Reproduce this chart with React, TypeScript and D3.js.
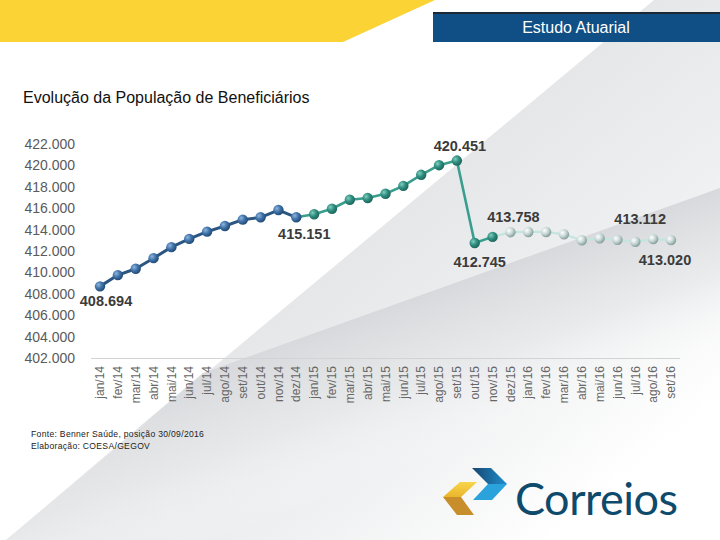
import * as d3 from "d3";

const months = [
  "jan/14", "fev/14", "mar/14", "abr/14", "mai/14", "jun/14", "jul/14", "ago/14",
  "set/14", "out/14", "nov/14", "dez/14", "jan/15", "fev/15", "mar/15", "abr/15",
  "mai/15", "jun/15", "jul/15", "ago/15", "set/15", "out/15", "nov/15", "dez/15",
  "jan/16", "fev/16", "mar/16", "abr/16", "mai/16", "jun/16", "jul/16", "ago/16",
  "set/16",
];

const beneficiarios = [
  408694, 409750, 410340, 411330, 412360, 413130, 413810, 414340,
  414930, 415150, 415830, 415151, 415430, 415950, 416790, 416950,
  417350, 418090, 419120, 420020, 420451, 412745, 413320, 413758,
  413780, 413780, 413560, 413000, 413190, 413040, 412860, 413112,
  413020,
];

const yTicks = [402000, 404000, 406000, 408000, 410000, 412000, 414000, 416000, 418000, 420000, 422000];

// Indices of the points that carry a value label.
const labelled = [0, 11, 20, 21, 23, 31, 32];

// segments: [first index, last index] of the line, marker range
const segments = [
  { key: "blue", line: [0, 11], marks: [0, 11] },
  { key: "teal", line: [11, 22], marks: [12, 22] },
  { key: "pale", line: [22, 32], marks: [23, 32] },
];

const W = 720;
const H = 540;
const FONT = "Arial, 'Liberation Sans', sans-serif";

const LINE_COLOR: Record<string, string> = { blue: "#2b5682", teal: "#3a9e8e", pale: "#c4e5de" };
const LINE_WIDTH: Record<string, number> = { blue: 3, teal: 2.6, pale: 2.2 };

// label offsets relative to the point (dx, baseline dy)
const LABEL_OFFSET: Record<number, [number, number]> = {
  0: [6, 20],
  11: [8, 22],
  20: [3, -10],
  21: [5, 24],
  23: [3, -10],
  31: [-13, -15],
  32: [-6, 25],
};

const fmt = (v: number) => d3.format(".3f")(v / 1000);

export default function App() {
  const x = d3.scalePoint<string>().domain(months).range([100, 671]);
  const y = d3.scaleLinear().domain([402000, 422000]).range([358, 144]);

  const line = d3
    .line<number>()
    .x((i) => x(months[i]) as number)
    .y((i) => y(beneficiarios[i]));

  const range = (a: number, b: number) => d3.range(a, b + 1);

  return (
    <svg
      width={W}
      height={H}
      viewBox={`0 0 ${W} ${H}`}
      style={{ position: "absolute", left: 0, top: 0 }}
      fontFamily={FONT}
    >
      <defs>
        <linearGradient id="bg1" gradientUnits="userSpaceOnUse" x1={330} y1={270} x2={552} y2={538}>
          <stop offset="0" stopColor="#e6e7e9" />
          <stop offset="0.5" stopColor="#eff0f1" />
          <stop offset="1" stopColor="#ffffff" />
        </linearGradient>
        <linearGradient id="bg2" gradientUnits="userSpaceOnUse" x1={460} y1={281} x2={515} y2={434}>
          <stop offset="0" stopColor="#d7d9dc" stopOpacity="1" />
          <stop offset="0.5" stopColor="#e6e7e9" stopOpacity="0.7" />
          <stop offset="1" stopColor="#ffffff" stopOpacity="0" />
        </linearGradient>
        <radialGradient id="m-blue" cx="0.35" cy="0.35" r="0.7">
          <stop offset="0" stopColor="#8fb5de" />
          <stop offset="0.5" stopColor="#3f72a8" />
          <stop offset="1" stopColor="#1f4670" />
        </radialGradient>
        <radialGradient id="m-teal" cx="0.35" cy="0.35" r="0.7">
          <stop offset="0" stopColor="#7fcfbf" />
          <stop offset="0.5" stopColor="#2f8d7f" />
          <stop offset="1" stopColor="#1b6359" />
        </radialGradient>
        <radialGradient id="m-pale" cx="0.35" cy="0.35" r="0.7">
          <stop offset="0" stopColor="#ffffff" />
          <stop offset="0.5" stopColor="#c8d8d6" />
          <stop offset="1" stopColor="#7f9896" />
        </radialGradient>
        <linearGradient id="yel" x1="0" y1="0" x2="0" y2="1">
          <stop offset="0" stopColor="#f7d54a" />
          <stop offset="1" stopColor="#e9b52c" />
        </linearGradient>
        <linearGradient id="blu" x1="0" y1="0" x2="1" y2="0">
          <stop offset="0" stopColor="#17466f" />
          <stop offset="1" stopColor="#1f8fcf" />
        </linearGradient>
      </defs>

      {/* background */}
      <rect width={W} height={H} fill="#ffffff" />
      <polygon points="654,0 720,0 720,540 6,540" fill="url(#bg1)" />
      <polygon points="203,373 720,188 720,540 6,540" fill="url(#bg2)" />

      {/* header */}
      <polygon points="0,0 435,0 343,42 0,42" fill="#fbd334" />
      <rect x={433} y={12} width={287} height={2} fill="#1d2835" />
      <rect x={433} y={14} width={287} height={28} fill="#0f4f86" />
      <text x={576} y={33} textAnchor="middle" fill="#ffffff" fontSize={16}>
        Estudo Atuarial
      </text>

      <text x={23} y={103} fill="#111" fontSize={16}>
        Evolução da População de Beneficiários
      </text>

      {/* y axis labels */}
      {yTicks.map((t) => (
        <text key={t} x={75} y={y(t)} dy="0.35em" textAnchor="end" fill="#5a5a5a" fontSize={14}>
          {fmt(t)}
        </text>
      ))}

      <line x1={91} x2={680} y1={358.5} y2={358.5} stroke="#d2d3d5" strokeWidth={1} />

      {/* x axis labels */}
      {months.map((m) => (
        <text
          key={m}
          transform={`translate(${x(m)},366) rotate(-90)`}
          dy="0.35em"
          textAnchor="end"
          fill="#666"
          fontSize={12}
        >
          {m}
        </text>
      ))}

      {/* lines */}
      {segments.map((s) => (
        <path
          key={s.key}
          d={line(range(s.line[0], s.line[1])) ?? ""}
          fill="none"
          stroke={LINE_COLOR[s.key]}
          strokeWidth={LINE_WIDTH[s.key]}
          strokeLinejoin="round"
        />
      ))}

      {/* markers */}
      {segments.map((s) =>
        range(s.marks[0], s.marks[1]).map((i) => (
          <circle
            key={`${s.key}-${i}`}
            cx={x(months[i])}
            cy={y(beneficiarios[i])}
            r={5.2}
            fill={`url(#m-${s.key})`}
          />
        )),
      )}

      {/* value labels */}
      {labelled.map((i) => {
        const [dx, dy] = LABEL_OFFSET[i];
        return (
          <text
            key={`lab-${i}`}
            x={(x(months[i]) as number) + dx}
            y={y(beneficiarios[i]) + dy}
            textAnchor="middle"
            fill="#3b3b3b"
            fontSize={14.5}
            fontWeight="bold"
          >
            {fmt(beneficiarios[i])}
          </text>
        );
      })}

      {/* footer */}
      <text x={31} y={437} fill="#222" fontSize={8.6} letterSpacing={0.3}>
        Fonte: Benner Saúde, posição 30/09/2016
      </text>
      <text x={31} y={449} fill="#222" fontSize={8.6} letterSpacing={0.3}>
        Elaboração: COESA/GEGOV
      </text>

      {/* logo */}
      <polygon points="443,497 460,482 477,482 461,497" fill="url(#yel)" />
      <polygon points="443,497 461,497 474,515 457,515" fill="#c98e2c" />
      <polygon points="472,468 491,468 507,484 488,484" fill="url(#blu)" />
      <polygon points="488,484 507,484 492,500 473,500" fill="#2aa3dc" />
      <text x={515} y={515} fill="#0d4a6c" fontSize={45} fontFamily="Lato, 'Open Sans', sans-serif" letterSpacing={-0.5}>
        Correios
      </text>
    </svg>
  );
}
